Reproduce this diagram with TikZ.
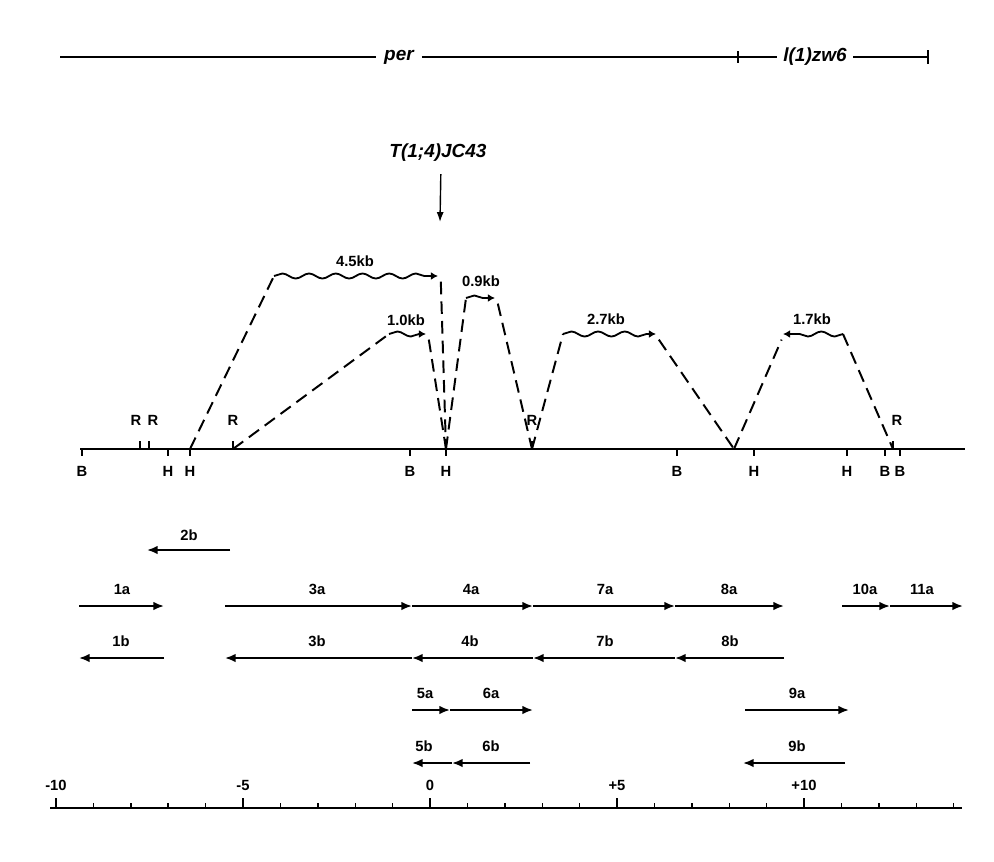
\documentclass[tikz,border=0pt]{standalone}
\usepackage{fontspec}
\setmainfont{Liberation Sans}
\usetikzlibrary{arrows.meta, decorations.pathmorphing, positioning}

\tikzset{
    lbl/.style={font=\bfseries\fontsize{10.5}{12}\selectfont, inner sep=0pt},
    gene/.style={font=\bfseries\itshape\fontsize{13.5}{15}\selectfont, inner sep=1pt},
    cdna/.style={line width=1.3pt, -{Latex[length=7.5pt,width=6pt]}},
    intron/.style={line width=1.4pt, dash pattern=on 9pt off 5pt},
    exon/.style={line width=1.3pt, decorate, decoration={snake, amplitude=1.8pt, segment length=19pt, post length=3pt}, -{Latex[length=5pt,width=5.5pt]}},
}

\begin{document}
\begin{tikzpicture}[x=0.025cm, y=-0.025cm, line width=1.4pt]
    \useasboundingbox (0,0) rectangle (994,862);

    % genes on top
    \node[gene] (per) at (399,57) {per};
    \node[gene] (zw) at (815,57) {l(1)zw6};
    \coordinate (perL) at (60,57);
    \coordinate (perR) at (738,57);
    \coordinate (zwR) at (928,57);
    \draw (perL) -- ([xshift=-4pt]per.west);
    \draw ([xshift=4pt]per.east) -- (perR) -- ([xshift=-3pt]zw.west);
    \draw ([xshift=3pt]zw.east) -- (zwR);
    \draw (perR) ++(0,-6) -- ++(0,12);
    \draw (zwR) ++(0,-7) -- ++(0,14);

    % translocation breakpoint
    \node[gene] (tl) at (438,153) {T(1;4)JC43};
    \coordinate (brk) at (440,222);
    \draw[line width=1pt, -{Latex[length=7pt,width=5pt]}] ([xshift=2pt,yshift=-7pt]tl.south) -- (brk);

    % restriction map
    \coordinate (mapL) at (80,449);
    \coordinate (mapR) at (965,449);
    \draw (mapL) -- (mapR);
    \foreach \n/\t/\x in {b1/B/82, h1/H/168, h2/H/190, b2/B/410, h3/H/446, b3/B/677, h4/H/754, h5/H/847, b4/B/885, b5/B/900} {
        \coordinate (s\n) at (\x,449);
        \draw[line width=1pt] (s\n) -- ++(0,7);
        \node[lbl] (\n) at (\x,471) {\t};
    }
    \foreach \n/\x/\lx in {r1/140/136, r2/149/153, r3/233/233, r4/532/532, r5/893/897} {
        \coordinate (s\n) at (\x,449);
        \draw[line width=1pt] (s\n) -- ++(0,-8);
        \node[lbl] (\n) at (\lx,420) {R};
    }
    \coordinate (sv) at (734,449);

    % transcripts
    \coordinate (t1a) at (274,276); \coordinate (t1b) at (438,276);
    \draw[intron] (sh2) -- (t1a);
    \draw[exon] (t1a) -- (t1b);
    \draw[intron] ([xshift=2pt,yshift=-4pt]t1b) -- (sh3);
    \node[lbl] (k45) at (355,261) {4.5kb};

    \coordinate (t2a) at (389,334); \coordinate (t2b) at (426,334);
    \draw[intron] (sr3) -- (t2a);
    \draw[exon] (t2a) -- (t2b);
    \draw[intron] ([xshift=2pt,yshift=-4pt]t2b) -- (sh3);
    \node[lbl] (k10) at (406,320) {1.0kb};

    \coordinate (t3a) at (466,298); \coordinate (t3b) at (495,298);
    \draw[intron] (sh3) -- (t3a);
    \draw[exon] (t3a) -- (t3b);
    \draw[intron] ([xshift=2pt,yshift=-4pt]t3b) -- (sr4);
    \node[lbl] (k09) at (481,281) {0.9kb};

    \coordinate (t4a) at (563,334); \coordinate (t4b) at (656,334);
    \draw[intron] (sr4) -- (t4a);
    \draw[exon] (t4a) -- (t4b);
    \draw[intron] ([xshift=2pt,yshift=-4pt]t4b) -- (sv);
    \node[lbl] (k27) at (606,319) {2.7kb};

    \coordinate (t5a) at (843,334); \coordinate (t5b) at (783,334);
    \draw[intron] (sv) -- ([xshift=-1pt,yshift=-4pt]t5b);
    \draw[exon] (t5a) -- (t5b);
    \draw[intron] (t5a) -- (sr5);
    \node[lbl] (k17) at (812,319) {1.7kb};

    % cDNA clones
    \coordinate (c2r) at (230,550); \coordinate (c2l) at (147,550);
    \draw[cdna] (c2r) -- (c2l);
    \node[lbl] (n2b) at (189,535) {2b};

    \foreach \n/\x in {0/79, 1/164, 2/225, 3/412, 4/533, 5/675, 6/784, 7/842, 8/890, 9/963} {
        \coordinate (a\n) at (\x,606);
        \coordinate (b\n) at (\x,658);
    }
    \foreach \p/\q in {0/1, 2/3, 3/4, 4/5, 5/6, 7/8, 8/9} {
        \draw[cdna] (a\p) -- (a\q);
    }
    \foreach \p/\q in {1/0, 3/2, 4/3, 5/4, 6/5} {
        \draw[cdna] (b\p) -- (b\q);
    }
    \foreach \t/\x in {1a/122, 3a/317, 4a/471, 7a/605, 8a/729, 10a/865, 11a/922} {
        \node[lbl] (n\t) at (\x,589) {\t};
    }
    \foreach \t/\x in {1b/121, 3b/317, 4b/470, 7b/605, 8b/730} {
        \node[lbl] (n\t) at (\x,641) {\t};
    }

    \coordinate (c5) at (412,710); \coordinate (c6) at (450,710); \coordinate (c7) at (533,710);
    \coordinate (c9l) at (745,710); \coordinate (c9r) at (849,710);
    \draw[cdna] (c5) -- (c6);
    \draw[cdna] (c6) -- (c7);
    \draw[cdna] (c9l) -- (c9r);
    \node[lbl] (n5a) at (425,693) {5a};
    \node[lbl] (n6a) at (491,693) {6a};
    \node[lbl] (n9a) at (797,693) {9a};

    \coordinate (d5) at (412,763); \coordinate (d6) at (452,763); \coordinate (d7) at (530,763);
    \coordinate (d9l) at (743,763); \coordinate (d9r) at (845,763);
    \draw[cdna] (d6) -- (d5);
    \draw[cdna] (d7) -- (d6);
    \draw[cdna] (d9r) -- (d9l);
    \node[lbl] (n5b) at (424,746) {5b};
    \node[lbl] (n6b) at (491,746) {6b};
    \node[lbl] (n9b) at (797,746) {9b};

    % kb scale
    \coordinate (axL) at (50,808);
    \coordinate (axR) at (962,808);
    \draw (axL) -- (axR);
    \foreach \k in {-10,...,14} {
        \draw[line width=1pt] (430+37.4*\k,808) -- ++(0,-5);
    }
    \foreach \k/\t in {-10/-10, -5/-5, 0/0, 5/+5, 10/+10} {
        \draw[line width=1pt] (430+37.4*\k,808) -- ++(0,-10);
        \node[lbl] (m\k) at (430+37.4*\k,785) {\t};
    }
\end{tikzpicture}
\end{document}
